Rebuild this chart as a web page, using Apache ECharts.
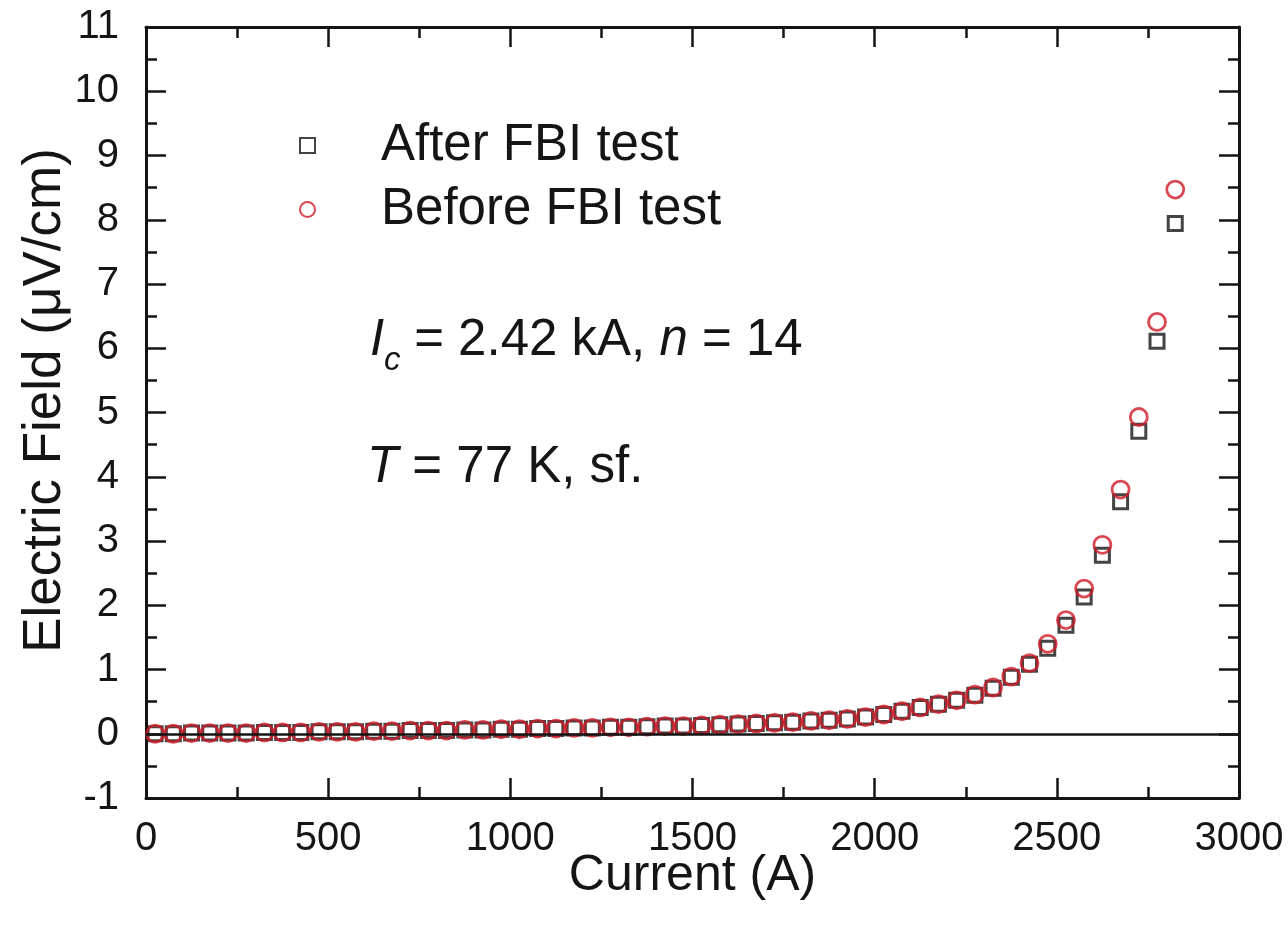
<!DOCTYPE html>
<html>
<head>
<meta charset="utf-8">
<script src="https://cdn.jsdelivr.net/npm/echarts@6/dist/echarts.min.js"></script>
<style>
html,body{margin:0;padding:0;background:#fff;}
#chart{width:1288px;height:927px;}
</style>
</head>
<body>
<div id="chart"></div>
<script>
// Current (A)
const current = [25,75,125,175,225,275,325,375,425,475,525,575,625,675,725,775,825,875,925,975,
  1025,1075,1125,1175,1225,1275,1325,1375,1425,1475,1525,1575,1625,1675,1725,1775,1825,1875,1925,1975,
  2025,2075,2125,2175,2225,2275,2325,2375,2425,2475,2525,2575,2625,2675,2725,2775,2825];
// Electric field (uV/cm) after FBI test
const afterField = [0.00,0.00,0.01,0.01,0.01,0.01,0.02,0.02,0.02,0.03,0.03,0.03,0.04,0.04,0.05,0.05,0.05,0.06,0.06,0.07,
  0.07,0.08,0.08,0.09,0.09,0.10,0.10,0.11,0.12,0.12,0.13,0.14,0.15,0.16,0.17,0.18,0.20,0.21,0.23,0.26,
  0.30,0.35,0.41,0.46,0.52,0.60,0.71,0.88,1.08,1.33,1.69,2.13,2.78,3.61,4.71,6.11,7.94];
// Electric field (uV/cm) before FBI test
const beforeField = [0.00,0.00,0.01,0.01,0.01,0.01,0.02,0.02,0.02,0.03,0.03,0.03,0.04,0.04,0.05,0.05,0.05,0.06,0.06,0.07,
  0.07,0.08,0.08,0.09,0.09,0.10,0.10,0.11,0.12,0.12,0.13,0.14,0.15,0.16,0.17,0.18,0.20,0.21,0.23,0.26,
  0.30,0.35,0.41,0.46,0.52,0.61,0.72,0.89,1.10,1.40,1.77,2.26,2.94,3.80,4.93,6.41,8.47];
const xTicks = [0,500,1000,1500,2000,2500,3000];
const yTicks = [-1,0,1,2,3,4,5,6,7,8,9,10,11];

const FONT = '"Liberation Sans", Arial, Helvetica, sans-serif';
const INK = '#151515';
const RED = '#d01c28';

const chart = echarts.init(document.getElementById('chart'), null, {renderer:'canvas'});

const axisBase = {
  axisLine:{show:true, onZero:false, lineStyle:{color:INK, width:3}},
  axisTick:{show:true, inside:true, length:20, lineStyle:{color:INK, width:2.5}},
  minorTick:{show:true, splitNumber:2, length:11, lineStyle:{color:INK, width:2.5}},
  splitLine:{show:false},
};

const option = {
  backgroundColor:'#fff',
  animation:false,
  grid:{left:146, top:27, width:1093, height:771, containLabel:false},
  legend:{
    orient:'vertical', left:294, top:115, itemWidth:15, itemHeight:15, itemGap:13,
    textStyle:{fontFamily:FONT, fontSize:51, color:INK, padding:[0,0,0,61]},
    data:['After FBI test','Before FBI test']
  },
  xAxis:[
    Object.assign({}, axisBase, {
      type:'value', min:xTicks[0], max:xTicks[xTicks.length-1], interval:500, position:'bottom',
      name:'Current (A)', nameLocation:'middle', nameGap:53, nameMoveOverlap:false,
      nameTextStyle:{fontFamily:FONT, fontSize:50, color:INK},
      axisLabel:{show:true, margin:21, fontFamily:FONT, fontSize:40, color:INK, formatter:v=>String(v)}
    }),
    Object.assign({}, axisBase, {
      type:'value', min:xTicks[0], max:xTicks[xTicks.length-1], interval:500, position:'top',
      axisLabel:{show:false}
    })
  ],
  yAxis:[
    Object.assign({}, axisBase, {
      type:'value', min:yTicks[0], max:yTicks[yTicks.length-1], interval:1, position:'left',
      name:'Electric Field (\u03bcV/cm)', nameLocation:'middle', nameGap:74, nameRotate:90, nameMoveOverlap:false,
      nameTextStyle:{fontFamily:FONT, fontSize:53, color:INK, padding:[0,0,0,24]},
      axisLabel:{show:true, margin:27, fontFamily:FONT, fontSize:40, color:INK}
    }),
    Object.assign({}, axisBase, {
      type:'value', min:yTicks[0], max:yTicks[yTicks.length-1], interval:1, position:'right',
      axisLabel:{show:false}
    })
  ],
  series:[
    {
      name:'After FBI test', type:'scatter', xAxisIndex:0, yAxisIndex:0,
      symbol:'rect', symbolSize:14,
      itemStyle:{color:'rgba(255,255,255,0)', borderColor:INK, borderWidth:3},
      data: current.map((c,i)=>[c, afterField[i]]),
      markLine:{
        silent:true, symbol:['none','none'], label:{show:false},
        lineStyle:{color:INK, width:2.5, type:'solid'},
        data:[{yAxis:0}]
      },
      z:2
    },
    {
      name:'Before FBI test', type:'scatter', xAxisIndex:0, yAxisIndex:0,
      symbol:'circle', symbolSize:17,
      itemStyle:{color:'rgba(255,255,255,0)', borderColor:RED, borderWidth:2.8},
      data: current.map((c,i)=>[c, beforeField[i]]),
      z:3
    }
  ],
  graphic:[
    {
      type:'text', x:370, y:341,
      style:{text:'I', fontFamily:FONT, fontSize:51, fontStyle:'italic', fill:INK, align:'left', verticalAlign:'middle'}
    },
    {
      type:'text', x:384, y:361,
      style:{text:'c', fontFamily:FONT, fontSize:33, fontStyle:'italic', fill:INK, align:'left', verticalAlign:'middle'}
    },
    {
      type:'text', x:400, y:341,
      style:{
        text:'{r| = 2.42 kA, }{i|n}{r| = 14}',
        fill:INK, align:'left', verticalAlign:'middle',
        rich:{
          i:{fontFamily:FONT, fontSize:51, fontStyle:'italic', fill:INK},
          r:{fontFamily:FONT, fontSize:51, fill:INK}
        }
      }
    },
    {
      type:'text', x:367, y:468,
      style:{
        text:'{i|T}{r| = 77 K, sf.}',
        fill:INK, align:'left', verticalAlign:'middle',
        rich:{
          i:{fontFamily:FONT, fontSize:51, fontStyle:'italic', fill:INK},
          r:{fontFamily:FONT, fontSize:51, fill:INK}
        }
      }
    }
  ]
};
chart.setOption(option);
</script>
</body>
</html>
